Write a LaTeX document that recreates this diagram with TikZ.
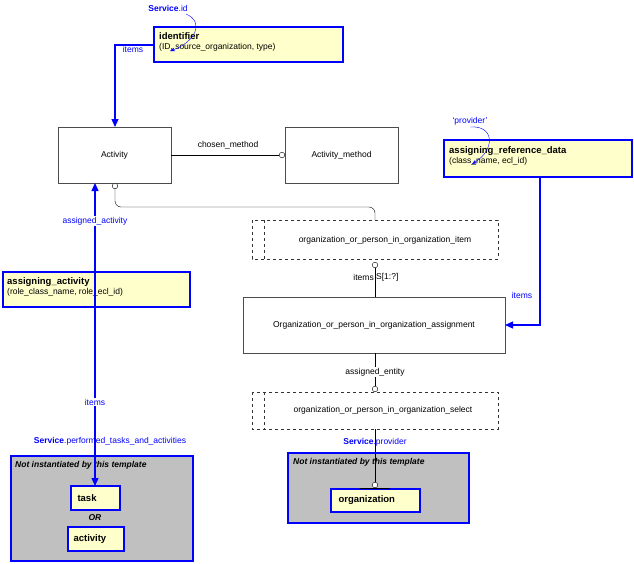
\documentclass[tikz,border=0pt]{standalone}
\usepackage{fontspec}
\setmainfont{Liberation Sans}
\usetikzlibrary{arrows.meta}
\definecolor{ylw}{HTML}{FFFFCC}
\definecolor{gry}{HTML}{C0C0C0}
\definecolor{bl}{HTML}{0000FF}
\begin{document}
\begin{tikzpicture}[x=1pt,y=-1pt,font=\fontsize{8.5}{10}\selectfont,
 ent/.style={draw=black!70,fill=white,line width=0.8pt},
 sel/.style={draw=black!80,dashed,fill=white,line width=0.6pt},
 yb/.style={draw=bl,fill=ylw,line width=1.2pt},
 gb/.style={draw=bl,fill=gry,line width=1.2pt},
 bline/.style={draw=bl,line width=1.2pt},
 barr/.style={bline,-{Triangle[length=8pt,width=7pt]}},
 circ/.style={-{Circle[open,length=6pt,width=6pt,fill=white]}},
 bt/.style={text=bl,inner sep=1pt},
 lab/.style={inner sep=1pt}]
\useasboundingbox (0,0) rectangle (634,563);
% boxes
\draw[ent] (58,127) rectangle (171,183); \node (act) at (114.5,155) {Activity};
\path (58,127) coordinate (actTL);
\draw[ent] (285,127) rectangle (398,183); \node (am) at (341.5,155) {Activity\_method};
\draw[sel] (252,220) rectangle (498,259); \draw[sel] (264,220) -- (264,259);
\node (item) at (385,240) {organization\_or\_person\_in\_organization\_item};
\draw[ent] (243,297) rectangle (505,353);
\node (asg) at (374,325) {Organization\_or\_person\_in\_organization\_assignment};
\draw[sel] (252,392) rectangle (498,429); \draw[sel] (264,392) -- (264,429);
\node (sel) at (383,410) {organization\_or\_person\_in\_organization\_select};
% yellow
\draw[yb] (154,27) rectangle (343,62);
\node[anchor=north west,align=left,inner sep=0pt] (id) at (159,32) {\textbf{\fontsize{9.5}{11}\selectfont identifier}\\(ID, source\_organization, type)};
\draw[yb] (444,140) rectangle (632,177);
\node[anchor=north west,align=left,inner sep=0pt] (ard) at (449,146) {\textbf{\fontsize{9.5}{11}\selectfont assigning\_reference\_data}\\(class\_name, ecl\_id)};
\draw[yb] (3,272) rectangle (190,307);
\node[anchor=north west,align=left,inner sep=0pt] (aa) at (7,277) {\textbf{\fontsize{9.5}{11}\selectfont assigning\_activity}\\(role\_class\_name, role\_ecl\_id)};
% grey
\draw[gb] (11,456) rectangle (193,561);
\node[anchor=north west,inner sep=0pt] (ni1) at (15,461) {\textbf{\textit{Not instantiated by this template}}};
\draw[yb] (71,486) rectangle (120,510); \node[anchor=west] (task) at (74,498) {\textbf{\fontsize{9.5}{11}\selectfont task}};
\node (or) at (95,518) {\textbf{\textit{OR}}};
\draw[yb] (68,527) rectangle (124,551); \node[anchor=west] (actv) at (70,539) {\textbf{\fontsize{9.5}{11}\selectfont activity}};
\draw[gb] (288,453) rectangle (469,523);
\node[anchor=north west,inner sep=0pt] (ni2) at (293,458) {\textbf{\textit{Not instantiated by this template}}};
\draw[yb] (331,489) rectangle (420,512); \node[anchor=west] (org) at (335,500.5) {\textbf{\fontsize{9.5}{11}\selectfont organization}};
% coordinates
\coordinate (a1) at (171,155); \coordinate (a2) at (285,155);
\coordinate (b1) at (115,183);
\coordinate (c1) at (375,262); \coordinate (c2) at (375,297);
\coordinate (d1) at (375,353); \coordinate (d2) at (375,392);
\coordinate (e1) at (375,429); \coordinate (e2) at (375,488);
% black connectors
\draw[circ] (a1) -- (a2);
\node[lab] (cm) at (228,145) {chosen\_method};
\draw[{Circle[open,length=6pt,width=6pt,fill=white]}-,rounded corners=6pt] (b1) -- (115,207) -- (375,207) -- (375,220);
\draw[circ] (c2) -- (c1);
\node[lab,anchor=east] (isl) at (375,277) {items}; \node[lab,anchor=west] (isr) at (375,277) {S[1:?]};
\draw[circ] (d1) -- (d2);
\node[lab,fill=white] (ae) at (375,372) {assigned\_entity};
\draw[circ] (e1) -- (e2); \draw (360,488) -- (390,488);
% blue connectors
\draw[barr] (154,45) -- (115,45) -- (115,127);
\node[bt] (it1) at (133,49) {items};
\node[bt] (sid) at (168,8) {\textbf{Service}.id};
\draw[bl,-{Stealth[length=5pt]}] (186,14) .. controls (205,22) and (195,42) .. (170,51);
\draw[barr] (540,177) -- (540,325) -- (505,325);
\node[bt] (it2) at (522,295) {items};
\node[bt] (prov) at (470,121) {`provider'};
\draw[bl,-{Stealth[length=5pt]}] (470,127) .. controls (495,125) and (495,150) .. (472,164);
\draw[barr,{Triangle[length=8pt,width=7pt]}-{Triangle[length=8pt,width=7pt]}] (95,183) -- (95,486);
\node[bt,fill=white] (aact) at (95,221) {assigned\_activity};
\node[bt,fill=white] (it3) at (95,402) {items};
\node[bt] (spt) at (110,441) {\textbf{Service}.performed\_tasks\_and\_activities};
\node[bt] (spr) at (375,442) {\textbf{Service}.provider};
\end{tikzpicture}
\end{document}
